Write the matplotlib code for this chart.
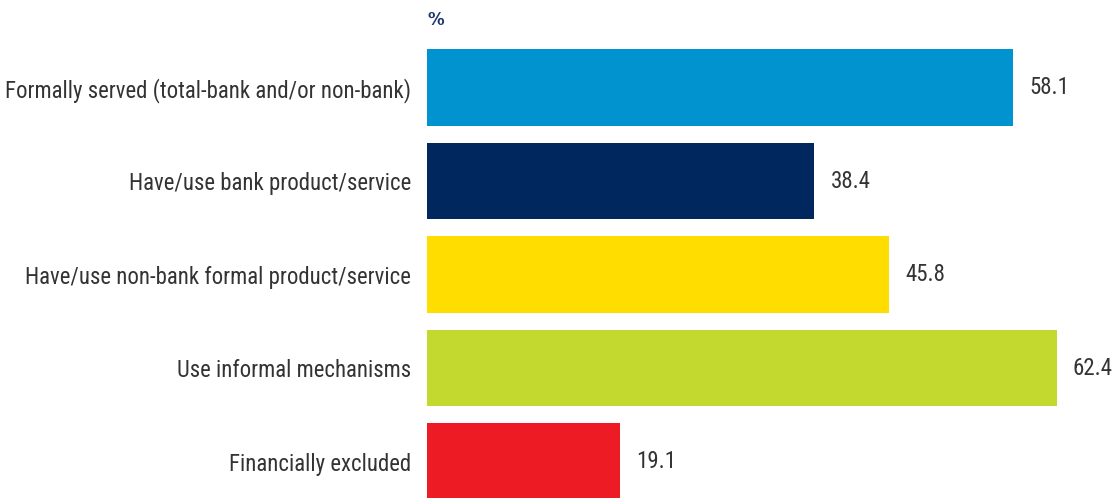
import matplotlib
matplotlib.use("Agg")
import matplotlib.pyplot as plt

# Share of adults by access channel
categories = [
    "Formally served (total-bank and/or non-bank)",
    "Have/use bank product/service",
    "Have/use non-bank formal product/service",
    "Use informal mechanisms",
    "Financially excluded",
]
values = [58.1, 38.4, 45.8, 62.4, 19.1]
colors = ["#0093D0", "#00285F", "#FFDD00", "#C3D92F", "#ED1C24"]

plt.rcParams["font.family"] = ["Roboto Condensed", "Liberation Sans Narrow",
                               "Roboto", "DejaVu Sans"]

fig = plt.figure(figsize=(11.13, 4.98), dpi=100)
ax = fig.add_axes([427 / 1113, 0, 1 - 427 / 1113, 1])

pos = list(range(len(categories)))
ax.barh(pos, values, height=0.82, color=colors)

for p, v in zip(pos, values):
    ax.text(v + 1.6, p, f"{v:.1f}", va="center", ha="left",
            fontsize=16.5, color="#333333")

ax.set_xlim(0, 68.0)
ax.set_ylim(4.39, -0.936)

ax.set_yticks(pos)
ax.set_yticklabels(categories, fontsize=16.4, color="#333333")
ax.tick_params(axis="y", length=0, pad=11.5)
ax.set_xticks([])
for s in ax.spines.values():
    s.set_visible(False)

ax.text(0, -0.72, "%", fontsize=12, fontweight="bold", color="#1F3A6E",
        ha="left", va="center", family=["DejaVu Sans"])

fig.savefig("out.png", dpi=100)
